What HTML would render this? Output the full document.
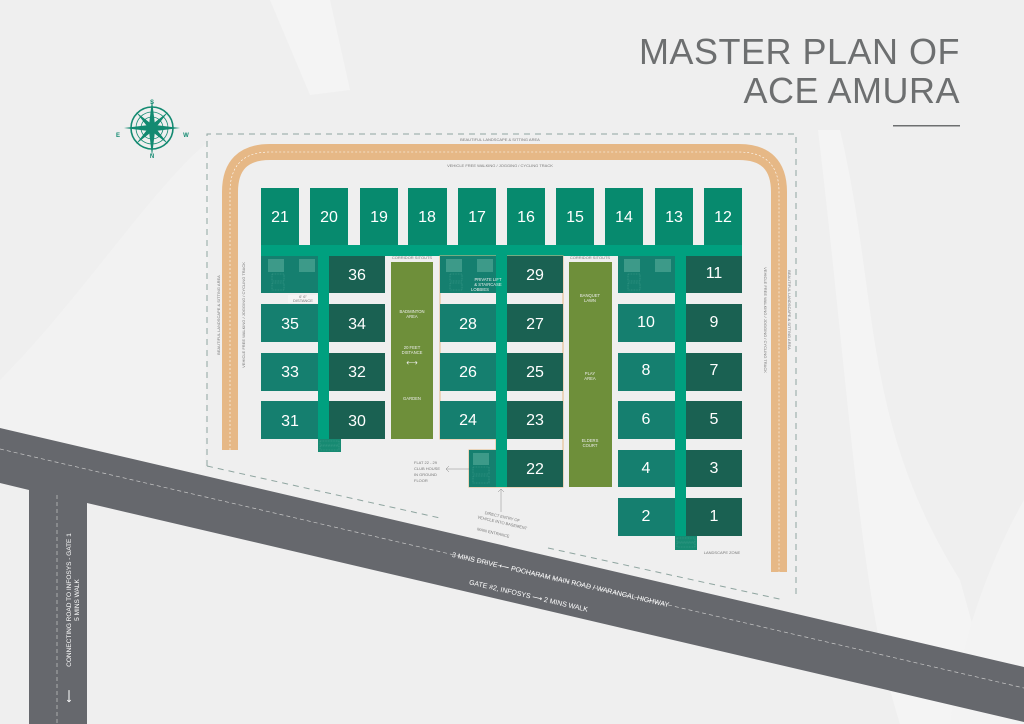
<!DOCTYPE html>
<html><head><meta charset="utf-8"><style>
html,body{margin:0;padding:0;background:#efefef;}
svg{display:block;font-family:"Liberation Sans",sans-serif;}
.n{fill:#fff;font-size:16px;text-anchor:middle;}
.s{fill:#777;font-size:4px;text-anchor:middle;}
.w{fill:#eee;font-size:4.2px;text-anchor:middle;}
</style></head><body>
<svg width="1024" height="724" viewBox="0 0 1024 724">
<rect width="1024" height="724" fill="#efefef"/>
<path d="M270 0 L330 0 L350 90 L310 95 Z" fill="#f4f4f4"/>
<path d="M0 380 C80 300 150 190 210 140 L205 470 L0 470 Z" fill="#f2f2f2"/>
<path d="M818 130 L840 130 C880 300 860 420 960 580 L1000 724 L900 724 C860 600 850 400 818 130 Z" fill="#f4f4f4"/>
<path d="M1024 500 C990 560 960 640 950 724 L1024 724 Z" fill="#f3f3f3"/>
<text x="960" y="64" text-anchor="end" font-size="36" fill="#6d6f70" letter-spacing="0.5">MASTER PLAN OF</text>
<text x="960" y="103" text-anchor="end" font-size="36" fill="#6d6f70" letter-spacing="0.5">ACE AMURA</text>
<rect x="893" y="125" width="67" height="1.5" fill="#6d6f70"/>
<g transform="translate(152,128)" stroke="#138a71" fill="none">
<circle r="21" stroke-width="1.6"/><circle r="16" stroke-width="0.8"/><circle r="11" stroke-width="0.8"/><circle r="3" stroke-width="1.5"/>
<path d="M0-28 L3-3 L28 0 L3 3 L0 28 L-3 3 L-28 0 L-3-3 Z" fill="#138a71" stroke="none"/>
<path d="M-16-16 L2-2 L16 16 L-2 2 Z M16-16 L2 2 L-16 16 L-2-2 Z" fill="#138a71" stroke="none"/>
</g>
<text x="152" y="104" font-size="6" fill="#138a71" text-anchor="middle" font-weight="bold">S</text>
<text x="152" y="158" font-size="6" fill="#138a71" text-anchor="middle" font-weight="bold">N</text>
<text x="118" y="137" font-size="6" fill="#138a71" text-anchor="middle" font-weight="bold">E</text>
<text x="186" y="137" font-size="6" fill="#138a71" text-anchor="middle" font-weight="bold">W</text>
<path d="M207 466 L207 134 L796 134 L796 598 M207 466 L440 518 M548 548 L784 600" fill="none" stroke="#8fa5a0" stroke-width="1" stroke-dasharray="6,5"/>
<path d="M230 450 L230 192 Q230 152 270 152 L739 152 Q779 152 779 192 L779 572" fill="none" stroke="#e6b886" stroke-width="16"/>
<path d="M230 450 L230 192 Q230 152 270 152 L739 152 Q779 152 779 192 L779 572" fill="none" stroke="#fff" stroke-width="0.6" stroke-dasharray="2,2"/>
<text x="500" y="141" class="s">BEAUTIFUL LANDSCAPE &amp; SITTING AREA</text>
<text x="500" y="167" class="s">VEHICLE FREE WALKING / JOGGING / CYCLING TRACK</text>
<text transform="translate(220,315) rotate(-90)" class="s">BEAUTIFUL LANDSCAPE &amp; SITTING AREA</text>
<text transform="translate(245,315) rotate(-90)" class="s">VEHICLE FREE WALKING / JOGGING / CYCLING TRACK</text>
<text transform="translate(764,320) rotate(90)" class="s">VEHICLE FREE WALKING / JOGGING / CYCLING TRACK</text>
<text transform="translate(788,310) rotate(90)" class="s">BEAUTIFUL LANDSCAPE &amp; SITTING AREA</text>
<path d="M0 428 L1024 667 L1024 724 L1024 722 L87 503 L87 724 L29 724 L29 490 L0 483 Z" fill="#66686d"/>
<path d="M0 449 L1024 688" stroke="#c8c8c8" stroke-width="0.7" stroke-dasharray="4,3"/>
<path d="M57 495 L57 724" stroke="#c8c8c8" stroke-width="0.7" stroke-dasharray="4,3"/>
<text transform="translate(560,582) rotate(13.1)" font-size="7" fill="#fff" text-anchor="middle">3 MINS DRIVE ⟵ POCHARAM MAIN ROAD / WARANGAL HIGHWAY</text>
<text transform="translate(528,598) rotate(13.1)" font-size="7" fill="#fff" text-anchor="middle">GATE #2, INFOSYS ⟶ 2 MINS WALK</text>
<text transform="translate(71,600) rotate(-90)" font-size="6.5" fill="#fff" text-anchor="middle">CONNECTING ROAD TO INFOSYS - GATE 1</text>
<text transform="translate(79,600) rotate(-90)" font-size="6.5" fill="#fff" text-anchor="middle">5 MINS WALK</text>
<text x="70" y="700" font-size="9" fill="#fff" text-anchor="middle" transform="rotate(-90,69,697)">⟵</text>
<g fill="#078a6e">
<rect x="261" y="188" width="38" height="57"/><rect x="310" y="188" width="38" height="57"/><rect x="360" y="188" width="38" height="57"/><rect x="408" y="188" width="39" height="57"/><rect x="458" y="188" width="38" height="57"/><rect x="507" y="188" width="38" height="57"/><rect x="556" y="188" width="38" height="57"/><rect x="605" y="188" width="38" height="57"/><rect x="655" y="188" width="38" height="57"/><rect x="704" y="188" width="38" height="57"/>
</g>
<text x="280" y="222" class="n">21</text><text x="329" y="222" class="n">20</text><text x="379" y="222" class="n">19</text><text x="427" y="222" class="n">18</text><text x="477" y="222" class="n">17</text><text x="526" y="222" class="n">16</text><text x="575" y="222" class="n">15</text><text x="624" y="222" class="n">14</text><text x="674" y="222" class="n">13</text><text x="723" y="222" class="n">12</text>
<rect x="261" y="245" width="481" height="11" fill="#00a07f"/>
<path d="M440 256 L563 256 L563 487 L469 487 L469 450 L496 450 L496 439 L440 439 Z" fill="none" stroke="#e6b886" stroke-width="1"/>
<g fill="#157f6f">
<rect x="261" y="256" width="57" height="37"/><rect x="261" y="304" width="57" height="38"/><rect x="261" y="353" width="57" height="38"/><rect x="261" y="401" width="57" height="38"/>
<rect x="440" y="256" width="56" height="37"/><rect x="440" y="304" width="56" height="38"/><rect x="440" y="353" width="56" height="38"/><rect x="440" y="401" width="56" height="38"/><rect x="469" y="450" width="27" height="37"/>
<rect x="618" y="256" width="57" height="37"/><rect x="618" y="304" width="57" height="38"/><rect x="618" y="353" width="57" height="38"/><rect x="618" y="401" width="57" height="38"/><rect x="618" y="450" width="57" height="37"/><rect x="618" y="498" width="57" height="38"/>
</g>
<g fill="#1a6152">
<rect x="329" y="256" width="56" height="37"/><rect x="329" y="304" width="56" height="38"/><rect x="329" y="353" width="56" height="38"/><rect x="329" y="401" width="56" height="38"/>
<rect x="507" y="256" width="56" height="37"/><rect x="507" y="304" width="56" height="38"/><rect x="507" y="353" width="56" height="38"/><rect x="507" y="401" width="56" height="38"/><rect x="507" y="450" width="56" height="37"/>
<rect x="686" y="256" width="56" height="37"/><rect x="686" y="304" width="56" height="38"/><rect x="686" y="353" width="56" height="38"/><rect x="686" y="401" width="56" height="38"/><rect x="686" y="450" width="56" height="37"/><rect x="686" y="498" width="56" height="38"/>
</g>
<g fill="#00a07f">
<rect x="318" y="245" width="11" height="207"/><rect x="496" y="245" width="11" height="242"/><rect x="675" y="245" width="11" height="305"/>
</g>
<g fill="#178a72"><rect x="318" y="439" width="23" height="13"/><rect x="675" y="536" width="22" height="14"/></g>
<g fill="#3d9a89">
<rect x="268" y="259" width="16" height="13"/><rect x="299" y="259" width="16" height="13"/>
<rect x="446" y="259" width="16" height="13"/><rect x="477" y="259" width="16" height="13"/>
<rect x="624" y="259" width="16" height="13"/><rect x="655" y="259" width="16" height="13"/>
<rect x="473" y="453" width="16" height="12"/>
</g>
<g fill="none" stroke="#4aa392" stroke-width="0.6" stroke-dasharray="0.8,0.8">
<rect x="272" y="274" width="12" height="7"/><rect x="272" y="283" width="12" height="7"/>
<rect x="450" y="274" width="12" height="7"/><rect x="450" y="283" width="12" height="7"/>
<rect x="628" y="274" width="12" height="7"/><rect x="628" y="283" width="12" height="7"/>
<rect x="473" y="467" width="16" height="7"/><rect x="473" y="476" width="16" height="7"/>
<rect x="320" y="441" width="19" height="4"/><rect x="320" y="446" width="19" height="4"/>
<rect x="677" y="538" width="18" height="4"/><rect x="677" y="543" width="18" height="4"/>
</g>
<text x="488" y="281" class="w">PRIVATE LIFT</text>
<text x="488" y="286" class="w">&amp; STAIRCASE</text>
<text x="480" y="291" class="w">LOBBIES</text>
<text x="357" y="280" class="n">36</text><text x="290" y="329" class="n">35</text><text x="357" y="329" class="n">34</text><text x="290" y="377" class="n">33</text><text x="357" y="377" class="n">32</text><text x="290" y="426" class="n">31</text><text x="357" y="426" class="n">30</text>
<text x="535" y="280" class="n">29</text><text x="468" y="329" class="n">28</text><text x="535" y="329" class="n">27</text><text x="468" y="377" class="n">26</text><text x="535" y="377" class="n">25</text><text x="468" y="425" class="n">24</text><text x="535" y="425" class="n">23</text><text x="535" y="474" class="n">22</text>
<text x="714" y="278" class="n">11</text><text x="646" y="327" class="n">10</text><text x="714" y="327" class="n">9</text><text x="646" y="375" class="n">8</text><text x="714" y="375" class="n">7</text><text x="646" y="424" class="n">6</text><text x="714" y="424" class="n">5</text><text x="646" y="473" class="n">4</text><text x="714" y="473" class="n">3</text><text x="646" y="521" class="n">2</text><text x="714" y="521" class="n">1</text>
<rect x="391" y="262" width="42" height="177" fill="#6e8f3a"/>
<rect x="569" y="262" width="43" height="225" fill="#6e8f3a"/>
<text x="412" y="259" class="s">CORRIDOR SITOUTS</text>
<text x="590" y="259" class="s">CORRIDOR SITOUTS</text>
<text x="412" y="313" class="w">BADMINTON</text><text x="412" y="318" class="w">AREA</text>
<text x="412" y="349" class="w">20 FEET</text><text x="412" y="354" class="w">DISTANCE</text>
<text x="412" y="365" font-size="8" fill="#eee" text-anchor="middle">⟷</text>
<text x="412" y="400" class="w">GARDEN</text>
<text x="590" y="297" class="w">BANQUET</text><text x="590" y="302" class="w">LAWN</text>
<text x="590" y="375" class="w">PLAY</text><text x="590" y="380" class="w">AREA</text>
<text x="590" y="442" class="w">ELDERS</text><text x="590" y="447" class="w">COURT</text>
<rect x="288" y="295" width="30" height="8" fill="#f4f4f4"/>
<text x="303" y="298" class="s" font-size="3.5">6' 6"</text><text x="303" y="302" class="s" font-size="3.5">DISTANCE</text>
<text x="414" y="464" font-size="4" fill="#777">FLAT 22 - 29</text>
<text x="414" y="470" font-size="4" fill="#777">CLUB HOUSE</text>
<text x="414" y="476" font-size="4" fill="#777">IN GROUND</text>
<text x="414" y="482" font-size="4" fill="#777">FLOOR</text>
<path d="M446 469 L469 469 M449 466 L446 469 L449 472" stroke="#888" stroke-width="0.5" fill="none"/>
<path d="M501 489 L501 512 M498 492 L501 489 L504 492" stroke="#888" stroke-width="0.5" fill="none"/>
<text transform="translate(502,518) rotate(13)" class="s">DIRECT ENTRY OF</text>
<text transform="translate(502,524) rotate(13)" class="s">VEHICLE INTO BASEMENT</text>
<text transform="translate(493,534) rotate(13)" class="s">MAIN ENTRANCE</text>
<text x="722" y="554" class="s">LANDSCAPE ZONE</text>
</svg>
</body></html>
